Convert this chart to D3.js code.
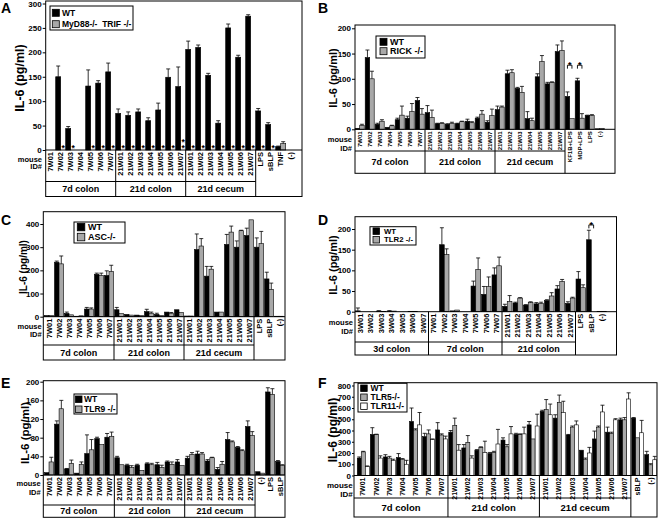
<!DOCTYPE html>
<html><head><meta charset="utf-8">
<script src="https://cdn.jsdelivr.net/npm/d3@7"></script>
<style>
body{margin:0;background:#fff}
svg text{font-family:"Liberation Sans",Arial,Helvetica,sans-serif;font-weight:bold;fill:#000}
</style></head><body>
<svg id="c" width="661" height="518"></svg>
<script>
// ---------------- DATA ----------------
const c7 = ["7W01","7W02","7W03","7W04","7W05","7W06","7W07"];
const c21 = ["21W01","21W02","21W03","21W04","21W05","21W06","21W07"];
const c3 = ["3W01","3W02","3W03","3W04","3W05","3W06","3W07"];

// Panel A
const catsA = [...c7, ...c21, ...c21, "LPS","sBLP","TNF","(-)"];
const groupNamesA = ["7d colon","21d colon","21d cecum"];
const groupSizesA = [7,7,7];
const ticksA = [0,50,100,150,200,250,300];
const seriesNamesA = ["WT","MyD88-/-  TRIF -/-"];
const wtA    = [0,150,44,0,131,137,160, 75,71,78,60,82,149,130, 206,210,153,55,250,190,274, 80,52,7,0];
const wtErrA = [0,22,4,0,33,5,18, 9,7,6,6,14,17,40, 17,5,4,5,8,4,3, 5,4,1,0];
const koA    = [0,0,0,0,0,0,0, 0,0,0,0,0,0,0, 0,0,0,0,0,0,0, 0,0,13,0];
const koErrA = [0,0,0,0,0,0,0, 0,0,0,0,0,0,0, 0,0,0,0,0,0,0, 0,0,4,0];
const starsA = [0,1,1,0,1,1,1, 1,1,1,1,1,1,2, 1,1,1,1,1,1,1, 1,1,0,0];

// Panel B
const catsB = [...c7, ...c21, ...c21, "KF1B+LPS","MDP+LPS","LPS","(-)"];
const groupNamesB = ["7d colon","21d colon","21d cecum"];
const groupSizesB = [7,7,7];
const ticksB = [0,50,100,150,200];
const seriesNamesB = ["WT","RICK -/-"];
const wtB     = [2,142,10,4,19,22,57, 33,11,10,11,16,22,14, 39,110,81,21,104,90,154, 65,96,27,1];
const wtErrB  = [0,15,2,0,3,4,6, 14,1,1,1,4,2,3, 7,7,2,14,6,3,13, 9,5,1,0];
const rickB   = [8,100,16,7,28,35,30, 23,12,12,15,13,30,27, 44,112,73,17,134,93,156, 21,22,27,2];
const rickErrB= [2,15,3,1,18,16,11, 15,1,2,1,2,7,13, 2,6,12,5,12,1,19, 0,9,2,0];
const bracketIdxB = [21,22];
const bracketValB = [127,127];

// Panel C
const catsC = [...c7, ...c21, ...c21, "LPS","sBLP","(-)"];
const groupNamesC = ["7d colon","21d colon","21d cecum"];
const groupSizesC = [7,7,7];
const ticksC = [0,100,200,300,400];
const seriesNamesC = ["WT","ASC-/-"];
const wtC    = [5,235,14,2,33,183,178, 30,10,7,22,10,20,30, 3,290,175,20,312,300,350, 300,163,2];
const wtErrC = [0,5,6,0,7,5,20, 10,0,0,10,5,0,0, 0,67,42,0,43,27,32, 40,29,0];
const ascC   = [5,228,8,4,33,178,195, 13,7,5,15,5,15,18, 3,305,205,20,365,371,418, 315,118,2];
const ascErrC= [0,34,0,0,5,10,27, 0,0,0,5,0,3,0, 0,32,12,0,26,2,0, 53,27,0];

// Panel D
const catsD = [...c3, ...c7, ...c21, "LPS","sBLP","(-)"];
const groupNamesD = ["3d colon","7d colon","21d colon"];
const groupSizesD = [7,7,7];
const ticksD = [0,50,100,150,200];
const seriesNamesD = ["WT","TLR2 -/-"];
const wtD     = [2,0,1.5,1.5,0,1,0, 0,162,2,0,62,42,89, 13,21,16,19,27,55,20, 79,174,1];
const wtErrD  = [7,0,1,1,0,0,0, 0,41,0,0,12,19,17, 5,2,1,3,2,8,4, 18,23,0];
const tlr2D   = [0,0,1,1.5,0,1,0, 0,138,4,0,102,61,111, 25,33,22,20,38,73,33, 58,0,1];
const tlr2ErrD= [0,0,0,0,0,0,0, 0,14,0,0,28,23,21, 14,1,2,3,8,5,2, 7,0,0];
const bracketIdxD = [22];
const bracketValD = [210];

// Panel E
const catsE = [...c7, ...c21, ...c21, "(-)","LPS","sBLP"];
const groupNamesE = ["7d colon","21d colon","21d cecum"];
const groupSizesE = [7,7,7];
const ticksE = [0,40,80,120,160,200];
const seriesNamesE = ["WT","TLR9 -/-"];
const wtE     = [5,109,13,4,46,78,81, 37,21,21,24,22,28,28, 36,45,30,12,76,59,104, 7,178,29];
const wtErrE  = [0,7,1,0,40,3,8, 3,2,2,2,5,2,5, 4,6,3,4,15,2,12, 0,9,2];
const tlr9E   = [28,142,25,23,54,65,83, 22,16,10,22,16,23,20, 44,45,37,23,71,52,85, 4,173,21];
const tlr9ErrE= [10,18,7,5,22,0,9, 0,4,0,3,5,5,0, 4,3,1,6,2,2,8, 0,12,1];

// Panel F
const catsF = [...c7, ...c21, ...c21, "sBLP","(-)"];
const groupNamesF = ["7d colon","21d colon","21d cecum"];
const groupSizesF = [7,7,7];
const ticksF = [0,100,200,300,400,500,600,700,800];
const seriesNamesF = ["WT","TLR5-/-","TLR11-/-"];
const wtF      = [155,365,165,160,480,345,405, 385,245,225,195,315,365,450, 570,510,360,225,325,385,495, 510,185];
const wtErrF   = [10,60,20,35,120,30,65, 15,30,5,10,20,10,30, 10,30,5,0,70,45,15, 5,30];
const tlr5F    = [210,365,155,145,405,370,360, 445,295,250,205,255,365,325, 585,650,430,145,430,375,495, 335,95];
const tlr5ErrF = [5,2,15,5,10,35,10, 65,60,5,10,20,5,0, 90,65,10,10,10,10,20, 0,10];
const tlr11F   = [80,155,135,100,450,320,325, 225,155,205,280,370,370,440, 540,560,450,200,565,495,680, 380,140];
const tlr11ErrF= [5,20,10,35,110,5,25, 50,20,100,130,65,60,105, 95,100,35,50,60,10,55, 110,30];

const BLACK = "#000000", GRAY = "#a8a8a8", WHITE = "#ffffff";

// ---------------- DRAW ----------------
const svg = d3.select("#c");

function drawPanel(L, D) {
  const g = svg.append("g");
  const n = D.cats.length;
  const x = d3.scaleBand().domain(d3.range(n)).range([L.bandStart, L.bandEnd]);
  const y = d3.scaleLinear().domain([0, d3.max(D.ticks)]).range([L.zero, L.yTop]);
  const bw = x.bandwidth();
  const sub = d3.scaleBand().domain(d3.range(D.series.length))
    .range([L.subOff * bw, (L.subOff + L.subFrac) * bw]);
  const cxOf = (i, si) => x(i) + sub(si) + sub.bandwidth() / 2;

  // bars
  D.series.forEach((s, si) => {
    g.append("g").selectAll("rect")
      .data(s.values.map((v, i) => ({v, i})).filter(d => d.v > 0))
      .join("rect")
      .attr("x", d => x(d.i) + sub(si))
      .attr("y", d => y(d.v))
      .attr("width", sub.bandwidth())
      .attr("height", d => y(0) - y(d.v))
      .attr("fill", s.color).attr("stroke", "#000").attr("stroke-width", 0.6);
  });
  // error bars
  D.series.forEach((s, si) => {
    const data = s.values.map((v, i) => ({v, e: s.errs[i], i})).filter(d => d.e > 0);
    const eg = g.append("g").attr("stroke", "#000").attr("stroke-width", 0.8);
    eg.selectAll("line.v").data(data).join("line").attr("class", "v")
      .attr("x1", d => cxOf(d.i, si)).attr("x2", d => cxOf(d.i, si))
      .attr("y1", d => y(d.v)).attr("y2", d => y(d.v + d.e));
    eg.selectAll("line.c").data(data).join("line").attr("class", "c")
      .attr("x1", d => cxOf(d.i, si) - 2).attr("x2", d => cxOf(d.i, si) + 2)
      .attr("y1", d => y(d.v + d.e)).attr("y2", d => y(d.v + d.e));
  });

  // frame
  g.append("rect").attr("x", L.left).attr("y", L.top)
    .attr("width", L.right - L.left).attr("height", L.grpBottom - L.top)
    .attr("fill", "none").attr("stroke", "#000").attr("stroke-width", 1);
  g.append("line").attr("x1", L.left).attr("x2", L.right).attr("y1", L.zero).attr("y2", L.zero)
    .attr("stroke", "#000");

  // group separators
  let idx = 0; const bounds = [];
  D.groupSizes.forEach(sz => { bounds.push([x(idx), x(idx + sz - 1) + bw]); idx += sz; });
  bounds[0][0] = L.left;
  bounds.forEach(b => {
    g.append("line").attr("x1", b[1]).attr("x2", b[1]).attr("y1", L.zero).attr("y2", L.grpBottom)
      .attr("stroke", "#000");
  });
  g.append("line").attr("x1", L.left).attr("x2", bounds[bounds.length - 1][1])
    .attr("y1", L.labBottom).attr("y2", L.labBottom).attr("stroke", "#000");
  g.selectAll("text.grp").data(D.groupNames).join("text").attr("class", "grp")
    .attr("x", (d, i) => (bounds[i][0] + bounds[i][1]) / 2)
    .attr("y", (L.labBottom + L.grpBottom) / 2)
    .attr("dy", "0.35em")
    .attr("text-anchor", "middle").attr("font-size", L.grpSize).text(d => d);

  // y axis
  const ax = g.append("g").attr("transform", `translate(${L.left},0)`)
    .call(d3.axisLeft(y).tickValues(D.ticks).tickSize(L.tickLen).tickPadding(1).tickFormat(d3.format("d")));
  ax.select(".domain").remove();
  ax.attr("font-size", L.tickSize);
  ax.selectAll("line").attr("stroke", "#000");

  // category labels
  g.selectAll("text.cl").data(D.cats).join("text").attr("class", "cl")
    .attr("transform", (d, i) => `translate(${x(i) + bw / 2},${L.zero + 2}) rotate(-90)`)
    .attr("text-anchor", "end").attr("dy", "0.35em")
    .attr("font-size", L.catSize).text(d => d);

  // mouse ID#
  g.append("text").attr("x", L.mouseX).attr("y", L.mouseY).attr("text-anchor", "end")
    .attr("font-size", L.mouseSize).text("mouse");
  g.append("text").attr("x", L.mouseX).attr("y", L.idY).attr("text-anchor", "end")
    .attr("font-size", L.mouseSize).text("ID#");

  // title
  g.append("text").attr("transform", `translate(${L.titleX},${L.titleY}) rotate(-90)`)
    .attr("text-anchor", "middle").attr("dy", "0.35em")
    .attr("font-size", L.titleSize).text("IL-6 (pg/ml)");

  // panel letter
  g.append("text").attr("x", L.lx).attr("y", L.ly).attr("font-size", 14).text(L.letter);

  // legend
  const lg = L.legend;
  g.append("rect").attr("x", lg.x).attr("y", lg.y).attr("width", lg.w).attr("height", lg.h)
    .attr("fill", "#fff").attr("stroke", "#000").attr("stroke-width", 1);
  D.series.forEach((s, si) => {
    const sy = lg.y + lg.sy0 + si * lg.pitch;
    g.append("rect").attr("x", lg.x + lg.sx).attr("y", sy).attr("width", lg.sq).attr("height", lg.sq)
      .attr("fill", s.color).attr("stroke", "#000").attr("stroke-width", 0.8);
    g.append("text").attr("x", lg.x + lg.tx).attr("y", sy + lg.sq / 2).attr("dy", "0.35em")
      .attr("font-size", lg.fs).style("white-space", "pre").text(s.name);
  });

  // asterisks (stacked ones drawn in one text element)
  if (D.stars) {
    D.stars.forEach((k, i) => {
      if (k <= 0) return;
      const t = g.append("text").attr("text-anchor", "middle").attr("font-size", 8.5);
      for (let j = 0; j < k; j++) {
        t.append("tspan").attr("x", cxOf(i, 1)).attr("y", L.zero + 1 - j * 6).text("*");
      }
    });
  }
  // significance brackets
  if (D.brIdx) {
    D.brIdx.forEach((i, k) => {
      const v = D.brVal[k];
      const x1 = cxOf(i, 0), x2 = cxOf(i, 1);
      const yl = y(v);
      g.append("path").attr("d", `M${x1},${yl + 3.5}V${yl}H${x2}V${yl + 3.5}`)
        .attr("fill", "none").attr("stroke", "#000").attr("stroke-width", 0.9);
      g.append("text").attr("x", (x1 + x2) / 2).attr("y", yl + 3)
        .attr("text-anchor", "middle").attr("font-size", 9).text("*");
    });
  }
}

// ---------------- LAYOUTS ----------------
const LA = {letter:"A", lx:1, ly:13, left:45.7, right:302, top:1, zero:150, yTop:3.5, labBottom:181.5, grpBottom:196.5,
  bandStart:45.7, bandEnd:295.7, subOff:0, subFrac:1, titleX:20, titleY:78, titleSize:12.5,
  mouseX:42, mouseY:161.5, idY:169, catSize:7.5, mouseSize:7.5, grpSize:9, tickSize:8, tickLen:3,
  legend:{x:50, y:6, w:83, h:24, sx:2.3, sy0:3.3, pitch:11.4, sq:7, tx:12, fs:8.5}};
const LB = {letter:"B", lx:318, ly:13, left:355, right:615, top:25, zero:129.3, yTop:28.3, labBottom:151, grpBottom:173.3,
  bandStart:355, bandEnd:605, subOff:0.02, subFrac:0.9, titleX:333, titleY:78, titleSize:11,
  mouseX:352, mouseY:142.3, idY:151, catSize:6, mouseSize:7.5, grpSize:9, tickSize:8, tickLen:3,
  legend:{x:376, y:36, w:49, h:22, sx:4, sy0:2.3, pitch:9.4, sq:7, tx:14, fs:9}};
const LC = {letter:"C", lx:1, ly:225, left:43.3, right:285, top:211.7, zero:316.7, yTop:224, labBottom:345, grpBottom:360,
  bandStart:44, bandEnd:284, subOff:0.05, subFrac:0.9, titleX:23.5, titleY:267, titleSize:10,
  mouseX:41.7, mouseY:328.7, idY:336.5, catSize:7.5, mouseSize:7.5, grpSize:9, tickSize:8, tickLen:3,
  legend:{x:74, y:222, w:51, h:21, sx:3.3, sy0:1.3, pitch:10, sq:7.5, tx:14, fs:9}};
const LD = {letter:"D", lx:318, ly:225, left:355, right:616.5, top:216.7, zero:311.7, yTop:229, labBottom:342, grpBottom:355,
  bandStart:355, bandEnd:607, subOff:0.05, subFrac:0.9, titleX:333, titleY:265, titleSize:11,
  mouseX:353, mouseY:324.7, idY:333.7, catSize:7.5, mouseSize:7.5, grpSize:9, tickSize:8, tickLen:3,
  legend:{x:370, y:226.7, w:46, h:18.3, sx:3, sy0:1.2, pitch:8.6, sq:6.5, tx:14, fs:7.8}};
const LE = {letter:"E", lx:1, ly:388, left:43.3, right:285, top:380.7, zero:475, yTop:381.7, labBottom:505, grpBottom:517.3,
  bandStart:44, bandEnd:285.2, subOff:0.05, subFrac:0.9, titleX:25, titleY:433, titleSize:11.5,
  mouseX:40.7, mouseY:486.3, idY:495, catSize:7.5, mouseSize:7.5, grpSize:9, tickSize:8, tickLen:3,
  legend:{x:74, y:394, w:43, h:20, sx:1.5, sy0:2, pitch:10, sq:6.5, tx:10, fs:8.5}};
const LF = {letter:"F", lx:318, ly:388, left:354, right:657, top:382.7, zero:475.5, yTop:385.5, labBottom:498, grpBottom:517,
  bandStart:356.5, bandEnd:657, subOff:0.06, subFrac:0.92, titleX:333, titleY:430, titleSize:12,
  mouseX:352.7, mouseY:488, idY:496.5, catSize:7, mouseSize:8, grpSize:9.5, tickSize:8, tickLen:2,
  legend:{x:358, y:383.3, w:49, h:28.7, sx:2.7, sy0:1.7, pitch:9, sq:6.5, tx:12.5, fs:8.5}};

drawPanel(LA, {cats:catsA, groupNames:groupNamesA, groupSizes:groupSizesA, ticks:ticksA, stars:starsA,
  series:[{name:seriesNamesA[0], color:BLACK, values:wtA, errs:wtErrA},
          {name:seriesNamesA[1], color:GRAY, values:koA, errs:koErrA}]});
drawPanel(LB, {cats:catsB, groupNames:groupNamesB, groupSizes:groupSizesB, ticks:ticksB, brIdx:bracketIdxB, brVal:bracketValB,
  series:[{name:seriesNamesB[0], color:BLACK, values:wtB, errs:wtErrB},
          {name:seriesNamesB[1], color:GRAY, values:rickB, errs:rickErrB}]});
drawPanel(LC, {cats:catsC, groupNames:groupNamesC, groupSizes:groupSizesC, ticks:ticksC,
  series:[{name:seriesNamesC[0], color:BLACK, values:wtC, errs:wtErrC},
          {name:seriesNamesC[1], color:GRAY, values:ascC, errs:ascErrC}]});
drawPanel(LD, {cats:catsD, groupNames:groupNamesD, groupSizes:groupSizesD, ticks:ticksD, brIdx:bracketIdxD, brVal:bracketValD,
  series:[{name:seriesNamesD[0], color:BLACK, values:wtD, errs:wtErrD},
          {name:seriesNamesD[1], color:GRAY, values:tlr2D, errs:tlr2ErrD}]});
drawPanel(LE, {cats:catsE, groupNames:groupNamesE, groupSizes:groupSizesE, ticks:ticksE,
  series:[{name:seriesNamesE[0], color:BLACK, values:wtE, errs:wtErrE},
          {name:seriesNamesE[1], color:GRAY, values:tlr9E, errs:tlr9ErrE}]});
drawPanel(LF, {cats:catsF, groupNames:groupNamesF, groupSizes:groupSizesF, ticks:ticksF,
  series:[{name:seriesNamesF[0], color:BLACK, values:wtF, errs:wtErrF},
          {name:seriesNamesF[1], color:GRAY, values:tlr5F, errs:tlr5ErrF},
          {name:seriesNamesF[2], color:WHITE, values:tlr11F, errs:tlr11ErrF}]});
</script>
</body></html>
